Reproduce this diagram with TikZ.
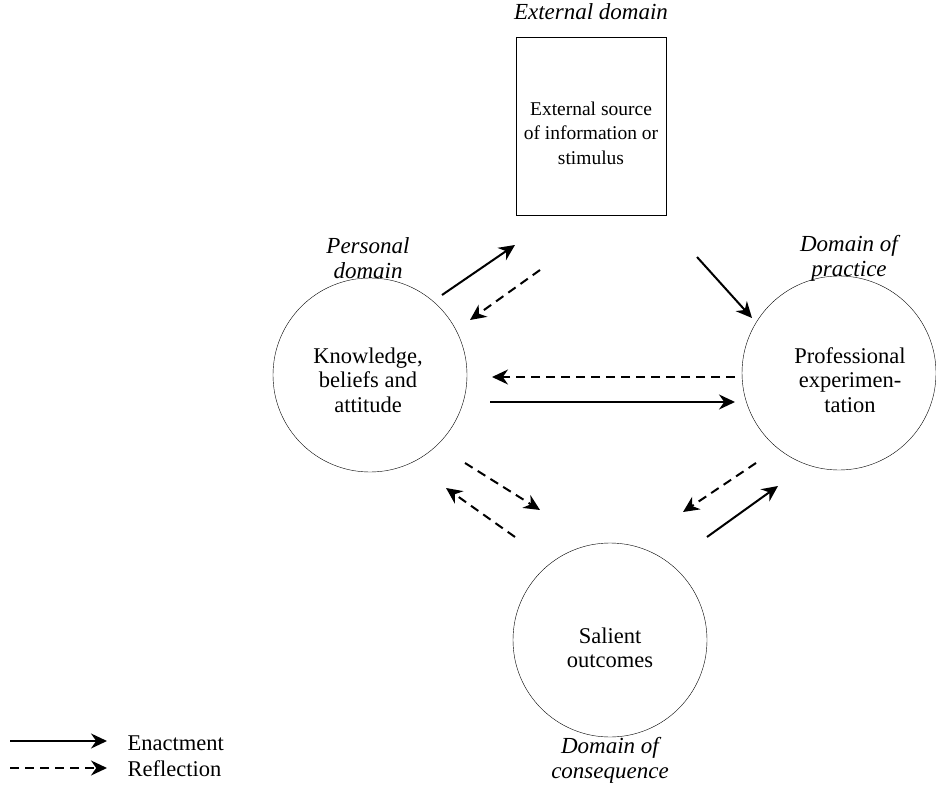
\documentclass[tikz,border=0pt]{standalone}
\usepackage{fontspec}
\setmainfont{Liberation Serif}
\usetikzlibrary{arrows.meta}
\tikzset{txt/.style={font=\fontsize{22.5}{24.5}\selectfont,align=center}}
\tikzset{boxtxt/.style={font=\fontsize{19.5}{24.5}\selectfont,align=center}}
\tikzset{dom/.style={font=\fontsize{23}{25}\selectfont\itshape,align=center}}
\tikzset{circ/.style={draw,circle,minimum size=194pt,inner sep=0pt}}
\tikzset{en/.style={line width=2pt,-{Stealth[length=16pt,width=15pt]}}}
\tikzset{re/.style={line width=2pt,dash pattern=on 9pt off 6pt,-{Stealth[length=16pt,width=15pt]}}}

\begin{document}
\begin{tikzpicture}[x=1pt,y=-1pt]
  \useasboundingbox (0,0) rectangle (936,791);
  % domains
  \node[draw,minimum width=150pt,minimum height=178pt] (ext) at (591,126) {};
  \node[boxtxt] (extt) at (591,133) {External source\\of information or\\stimulus};
  \node[dom] (extd) at (591,12) {External domain};
  \node[circ] (kba) at (370,375) {};
  \node[txt] (kbat) at (368,380) {Knowledge,\\beliefs and\\attitude};
  \node[dom] (pers) at (368,258) {Personal\\domain};
  \node[circ] (pe) at (839,373) {};
  \node[txt] (pet) at (850,380) {Professional\\experimen-\\tation};
  \node[dom] (prac) at (849,258) {Domain of\\practice};
  \node[circ] (so) at (610,640) {};
  \node[txt] (sot) at (610,648) {Salient\\outcomes};
  \node[dom] (cons) at (610,760) {Domain of\\consequence};
  % connector ends
  \coordinate (a1) at (442,295); \coordinate (a2) at (515,245);
  \coordinate (b1) at (540,270); \coordinate (b2) at (470,320);
  \coordinate (c1) at (697,257); \coordinate (c2) at (752,318);
  \coordinate (d1) at (735,377); \coordinate (d2) at (492,377);
  \coordinate (e1) at (490,402); \coordinate (e2) at (735,402);
  \coordinate (f1) at (465,463); \coordinate (f2) at (540,510);
  \coordinate (g1) at (515,537); \coordinate (g2) at (446,488);
  \coordinate (h1) at (756,463); \coordinate (h2) at (683,512);
  \coordinate (i1) at (707,537); \coordinate (i2) at (778,486);
  \draw[en] (a1) -- (a2);
  \draw[re] (b1) -- (b2);
  \draw[en] (c1) -- (c2);
  \draw[re] (d1) -- (d2);
  \draw[en] (e1) -- (e2);
  \draw[re] (f1) -- (f2);
  \draw[re] (g1) -- (g2);
  \draw[re] (h1) -- (h2);
  \draw[en] (i1) -- (i2);
  % legend
  \coordinate (l1) at (10,741); \coordinate (l2) at (107,741);
  \coordinate (l3) at (10,768); \coordinate (l4) at (107,768);
  \draw[en] (l1) -- (l2);
  \draw[re] (l3) -- (l4);
  \node[txt,anchor=west] (enl) at (124,743) {Enactment};
  \node[txt,anchor=west] (rel) at (124,769) {Reflection};
\end{tikzpicture}
\end{document}
